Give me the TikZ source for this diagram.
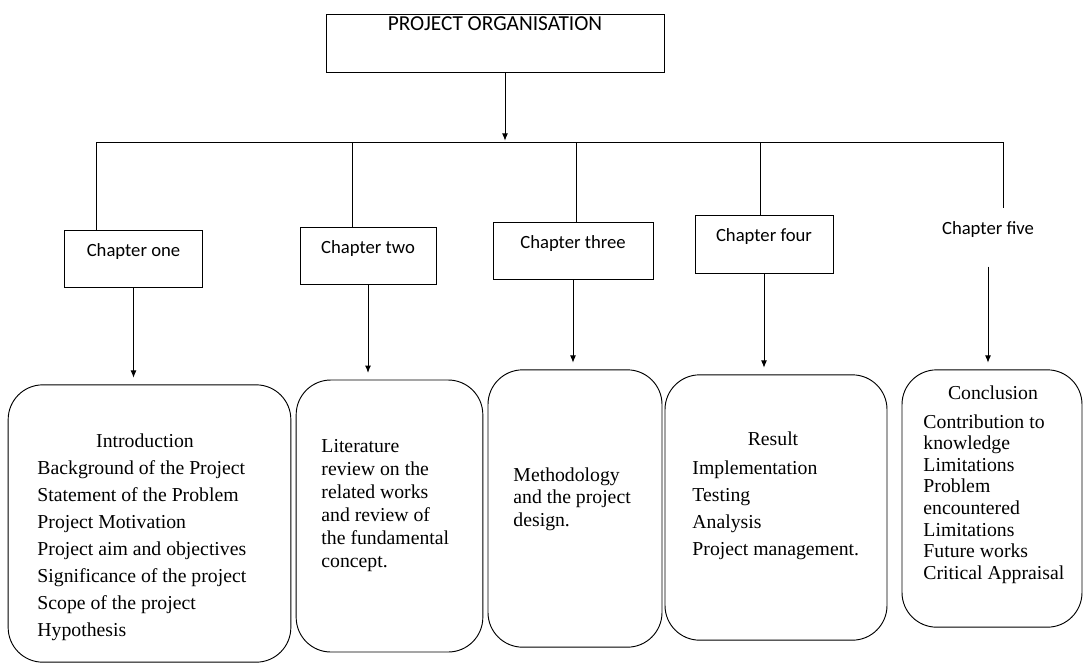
\documentclass[tikz,border=0pt]{standalone}
\usepackage{fontspec}
\setmainfont{Liberation Serif}
\newfontfamily\calibri{Carlito}
\usetikzlibrary{arrows.meta,positioning}
\newcommand{\chapfont}{\calibri\fontsize{14}{17}\selectfont}
\newcommand{\boxfont}{\fontsize{14.8}{20.25}\selectfont}

\begin{document}
\begin{tikzpicture}[
  x=0.75pt, y=-0.75pt,
  line width=0.7pt,
  arr/.style = {-{Latex[length=5.5pt,width=4.5pt]}, line width=0.7pt},
  chapbox/.style = {draw, inner sep=0pt, text height=19.5pt, text depth=23.5pt,
                    font=\chapfont},
  roundbox/.style = {draw, rounded corners=26pt, inner sep=0pt},
  heading/.style = {inner sep=0pt, font=\boxfont},
  items/.style = {inner sep=0pt, anchor=north west, align=left},
]
\useasboundingbox (0,0) rectangle (1085,669);

% Title
\node[chapbox, minimum width=253.5pt, text height=12pt, text depth=31.5pt,
  font=\calibri\fontsize{16}{19}\selectfont] (org) at (495,43) {PROJECT ORGANISATION};

% Chapters
\node[chapbox, minimum width=103pt] (ch1) at (133.5,259) {Chapter one};
\node[chapbox, minimum width=102pt] (ch2) at (368,256) {Chapter two};
\node[chapbox, minimum width=120pt] (ch3) at (573,251) {Chapter three};
\node[chapbox, minimum width=103.5pt] (ch4) at (764,244.5) {Chapter four};
\node[chapbox, draw=none] (ch5) at (988,237.5) {Chapter five};

% Bus line
\coordinate (bus1) at (96,142);
\coordinate (bus2) at (352,142);
\coordinate (bus3) at (576,142);
\coordinate (bus4) at (760,142);
\coordinate (bus5) at (1003,142);
\coordinate (drop) at (505,142);
\draw (bus1) -- (bus5);
\draw[arr, shorten >=1pt] (org.south -| drop) -- (drop);
\draw (bus1) -- (bus1 |- ch1.north);
\draw (bus2) -- (bus2 |- ch2.north);
\draw (bus3) -- (bus3 |- ch3.north);
\draw (bus4) -- (bus4 |- ch4.north);
\draw (bus5) -- (bus5 |- ch5.north);

% Content boxes
\node[roundbox, minimum width=212pt, minimum height=208pt] (intro) at (149.5,523.5) {};
\node[roundbox, minimum width=140pt, minimum height=204pt] (lit) at (389.5,516) {};
\node[roundbox, minimum width=130.5pt, minimum height=208pt] (meth) at (575,508.5) {};
\node[roundbox, minimum width=166.5pt, minimum height=199pt] (res) at (776,507.5) {};
\node[roundbox, minimum width=135pt, minimum height=193pt] (concl) at (992,498.5) {};

% Arrows down
\draw[arr, shorten >=5pt] (ch1.south) -- (ch1.south |- intro.north);
\draw[arr, shorten >=5pt] (ch2.south) -- (ch2.south |- lit.north);
\draw[arr, shorten >=5pt] (ch3.south) -- (ch3.south |- meth.north);
\draw[arr, shorten >=5pt] (ch4.south) -- (ch4.south |- res.north);
\draw[arr, shorten >=5pt] (ch5.south) -- (ch5.south |- concl.north);

% Box texts
\node[heading] (introhead) at (145,441) {Introduction};
\node[items, font=\boxfont] (introlist) at (37,460) {Background of the Project\\
  Statement of the Problem\\Project Motivation\\Project aim and objectives\\
  Significance of the project\\Scope of the project\\Hypothesis};
\node[items, font=\fontsize{14.8}{17.25}\selectfont] (littext) at (321,439)
  {Literature\\review on the\\related works\\and review of\\the fundamental\\concept.};
\node[items, font=\fontsize{14.8}{16.9}\selectfont] (methtext) at (513,467)
  {Methodology\\and the project\\design.};
\node[heading] (reshead) at (773,439) {Result};
\node[items, font=\boxfont] (reslist) at (692,460)
  {Implementation\\Testing\\Analysis\\Project management.};
\node[heading] (conclhead) at (993,393) {Conclusion};
\node[items, font=\fontsize{14.8}{16.2}\selectfont] (concllist) at (923,414)
  {Contribution to\\knowledge\\Limitations\\Problem\\encountered\\Limitations\\
  Future works\\Critical Appraisal};
\end{tikzpicture}
\end{document}
